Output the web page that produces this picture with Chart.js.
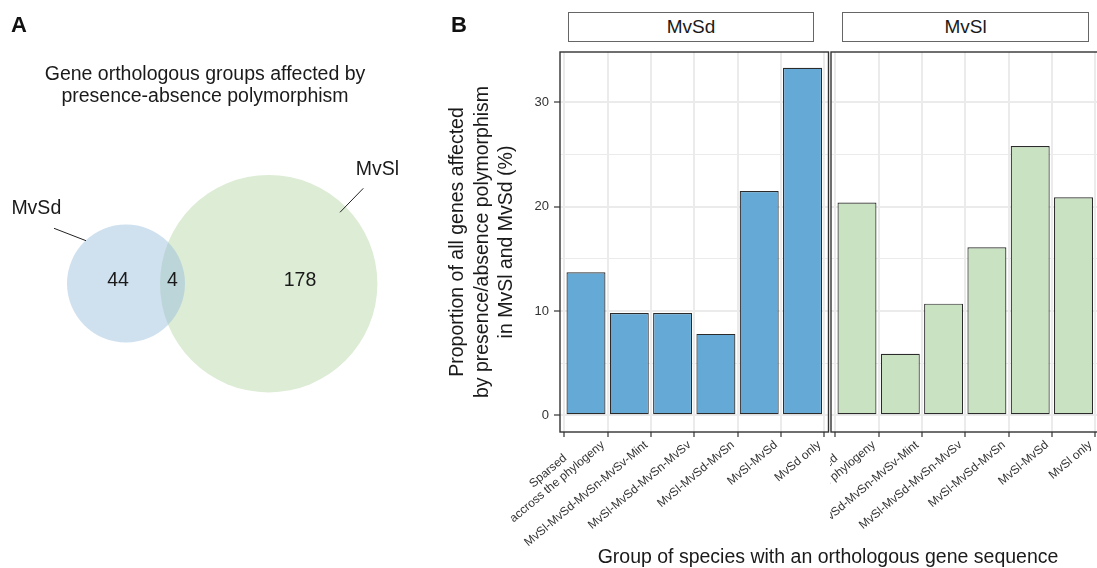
<!DOCTYPE html>
<html>
<head>
<meta charset="utf-8">
<script src="https://cdn.jsdelivr.net/npm/chart.js@4.4.1/dist/chart.umd.min.js"></script>
<style>
html, body { margin:0; padding:0; width:1097px; height:568px; overflow:hidden; background:#fff;
  font-family:"Liberation Sans", Arial, Helvetica, sans-serif; color:#1a1a1a; }
.abs { position:absolute; white-space:nowrap; }
canvas { position:absolute; }
.letter { font-size:22px; line-height:22px; font-weight:bold; color:#111; }
.strip { position:absolute; top:12px; height:28px; border:1px solid #666; text-align:center;
  line-height:28px; font-size:19px; color:#1a1a1a; background:#fff; }
</style>
</head>
<body>
<canvas id="venn" width="440" height="568" style="left:0;top:0;width:440px;height:568px;"></canvas>
<canvas id="mvsd" width="390" height="568" style="left:440px;top:0;width:390px;height:568px;"></canvas>
<canvas id="mvsl" width="280" height="568" style="left:830px;top:0;width:280px;height:568px;"></canvas>

<div class="abs letter" style="left:11px;top:14px;">A</div>
<div class="abs letter" style="left:451px;top:14px;">B</div>
<div class="abs" style="left:0;top:62px;width:410px;text-align:center;font-size:19.5px;line-height:22px;">Gene orthologous groups affected by<br>presence-absence polymorphism</div>
<div class="strip" style="left:568px;width:244px;">MvSd</div>
<div class="strip" style="left:842px;width:245px;">MvSl</div>
<div class="abs" style="left:528px;width:600px;top:546px;text-align:center;font-size:19.5px;line-height:20px;">Group of species with an orthologous gene sequence</div>

<script>
// ---------- data ----------
const vennSets = ["MvSd", "MvSl"];
const vennRegionCounts = [44, 4, 178];   // MvSd only, shared, MvSl only

const groupsMvSd = [["Sparsed", "accross the phylogeny"], "MvSl-MvSd-MvSn-MvSv-Mint", "MvSl-MvSd-MvSn-MvSv", "MvSl-MvSd-MvSn", "MvSl-MvSd", "MvSd only"];
const groupsMvSl = [["Sparsed", "accross the phylogeny"], "MvSl-MvSd-MvSn-MvSv-Mint", "MvSl-MvSd-MvSn-MvSv", "MvSl-MvSd-MvSn", "MvSl-MvSd", "MvSl only"];
const valuesMvSd = [13.7, 9.8, 9.8, 7.8, 21.5, 33.3];
const valuesMvSl = [20.4, 5.9, 10.7, 16.1, 25.8, 20.9];
const yTickValues = [0, 5, 10, 15, 20, 25, 30];
const yAxisTitle = ["Proportion of all genes affected", "by presence/absence polymorphism", "in MvSl and MvSd (%)"];

// ---------- common ----------
const FONT = '"Liberation Sans", Arial, Helvetica, sans-serif';
Chart.defaults.font.family = FONT;
Chart.defaults.color = '#333';

// ---------- Venn (panel A) ----------
const vennLayout = {
  circles: [ { x: 126, y: 283.5, r: 59 }, { x: 268.7, y: 283.7, r: 108.7 } ],
  colors: [ 'rgba(149,187,220,0.45)', '#ddecd5' ],
  counts: [ { x: 118, y: 285.7 }, { x: 172.5, y: 285.7 }, { x: 300, y: 285.7 } ],
  labels: [ { x: 36.3, y: 213.7 }, { x: 377.5, y: 175.3 } ],
  leaders: [ [54, 228.3, 86, 240.7], [363.3, 188.3, 340, 212.3] ]
};

const vennText = {
  id: 'vennText',
  afterDatasetsDraw(chart) {
    const { ctx, scales: { x, y } } = chart;
    ctx.save();
    ctx.fillStyle = '#1a1a1a';
    ctx.font = '19.5px ' + FONT;
    ctx.textAlign = 'center';
    ctx.textBaseline = 'alphabetic';
    vennRegionCounts.forEach((c, i) => {
      const p = vennLayout.counts[i];
      ctx.fillText(String(c), x.getPixelForValue(p.x), y.getPixelForValue(p.y));
    });
    vennSets.forEach((s, i) => {
      const p = vennLayout.labels[i];
      ctx.fillText(s, x.getPixelForValue(p.x), y.getPixelForValue(p.y));
    });
    ctx.strokeStyle = '#222';
    ctx.lineWidth = 1;
    vennLayout.leaders.forEach(l => {
      ctx.beginPath();
      ctx.moveTo(x.getPixelForValue(l[0]), y.getPixelForValue(l[1]));
      ctx.lineTo(x.getPixelForValue(l[2]), y.getPixelForValue(l[3]));
      ctx.stroke();
    });
    ctx.restore();
  }
};

new Chart(document.getElementById('venn'), {
  type: 'scatter',
  data: {
    datasets: vennSets.map((s, i) => ({
      label: s,
      data: [ { x: vennLayout.circles[i].x, y: vennLayout.circles[i].y } ],
      pointRadius: vennLayout.circles[i].r,
      pointHoverRadius: vennLayout.circles[i].r,
      pointStyle: 'circle',
      backgroundColor: vennLayout.colors[i],
      borderWidth: 0,
      pointBorderWidth: 0,
      clip: false
    }))
  },
  options: {
    responsive: false, animation: false, events: [],
    layout: { padding: 0, autoPadding: false },
    plugins: { legend: { display: false }, tooltip: { enabled: false } },
    scales: {
      x: { type: 'linear', min: 0, max: 440, display: false },
      y: { type: 'linear', min: 0, max: 568, reverse: true, display: false }
    }
  },
  plugins: [vennText]
});

// ---------- Bar panels (panel B) ----------
const panelBorder = {
  id: 'panelBorder',
  afterDatasetsDraw(chart) {
    const { ctx, chartArea: a } = chart;
    ctx.save();
    ctx.strokeStyle = '#333';
    ctx.lineWidth = 1.4;
    ctx.strokeRect(a.left, a.top, a.right - a.left, a.bottom - a.top);
    ctx.restore();
  }
};

// rotated category labels (ggplot style: 40 deg, multi-line centred, last line on the tick anchor)
const xLabels = {
  id: 'xLabels',
  afterDraw(chart, args, opts) {
    const { ctx } = chart;
    const sx = chart.scales.x;
    const labels = opts.labels;
    const ang = 40 * Math.PI / 180;
    const size = 12, lh = 14;
    ctx.save();
    ctx.fillStyle = '#333';
    ctx.font = size + 'px ' + FONT;
    ctx.textBaseline = 'alphabetic';
    sx.ticks.forEach((t, i) => {
      const lab = labels[t.value];
      const lines = Array.isArray(lab) ? lab : [lab];
      const px = sx.getPixelForTick(i);
      ctx.save();
      ctx.translate(px + 19, sx.top + 14);
      ctx.rotate(-ang);
      const w = Math.max(...lines.map(l => ctx.measureText(l).width));
      const n = lines.length;
      lines.forEach((l, k) => {
        const yy = -(n - 1 - k) * lh;
        if (n > 1) { ctx.textAlign = 'center'; ctx.fillText(l, -w / 2, yy); }
        else { ctx.textAlign = 'right'; ctx.fillText(l, 0, yy); }
      });
      ctx.restore();
    });
    ctx.restore();
  }
};

function makePanel(id, labels, values, color, showY, padLeft, padRight) {
  new Chart(document.getElementById(id), {
    type: 'bar',
    data: {
      labels: labels,
      datasets: [{
        data: values.map((v, i) => ({ x: i, y: v })),
        backgroundColor: color,
        borderColor: '#2b2b2b',
        borderWidth: 1.2,
        borderSkipped: false,
        barPercentage: 0.9,
        categoryPercentage: 1.0
      }]
    },
    options: {
      responsive: false, animation: false, events: [],
      layout: { padding: { top: 52, bottom: 0, left: padLeft, right: padRight } },
      plugins: { legend: { display: false }, tooltip: { enabled: false }, xLabels: { labels: labels } },
      scales: {
        x: {
          type: 'linear', min: -0.6, max: 5.6, offset: false,
          afterBuildTicks: s => { s.ticks = labels.map((_, i) => ({ value: i })); },
          afterFit: s => { s.height = 136; s.paddingLeft = 0; s.paddingRight = 0; },
          grid: { color: '#ebebeb', lineWidth: 2, tickColor: '#333', tickLength: 5, tickWidth: 1.2 },
          border: { display: false },
          ticks: { display: false, autoSkip: false, callback: v => labels[v] }
        },
        y: {
          min: -1.6, max: 34.82,
          afterBuildTicks: s => { s.ticks = yTickValues.map(v => ({ value: v })); },
          afterFit: s => { s.width = showY ? 120 : 0; },
          grid: {
            color: '#ebebeb',
            lineWidth: c => (c.tick && c.tick.value % 10 === 0) ? 2 : 1,
            tickColor: c => (c.tick && c.tick.value % 10 === 0) ? '#333' : 'rgba(0,0,0,0)',
            tickLength: 6, tickWidth: 1.2,
            drawTicks: showY
          },
          border: { display: false },
          ticks: {
            display: showY, padding: 5, font: { size: 13 }, color: '#333',
            callback: v => (v % 10 === 0 ? String(v) : '')
          },
          title: {
            display: showY, text: yAxisTitle, color: '#1a1a1a',
            font: { size: 19.5, lineHeight: 1.24 }, padding: { top: 6, bottom: 0 }
          }
        }
      }
    },
    plugins: [panelBorder, xLabels]
  });
}

makePanel('mvsd', groupsMvSd, valuesMvSd, '#65aad6', true, 0, 1.5);
makePanel('mvsl', groupsMvSl, valuesMvSl, '#c9e2c1', false, 1, 10.5);
</script>
</body>
</html>
